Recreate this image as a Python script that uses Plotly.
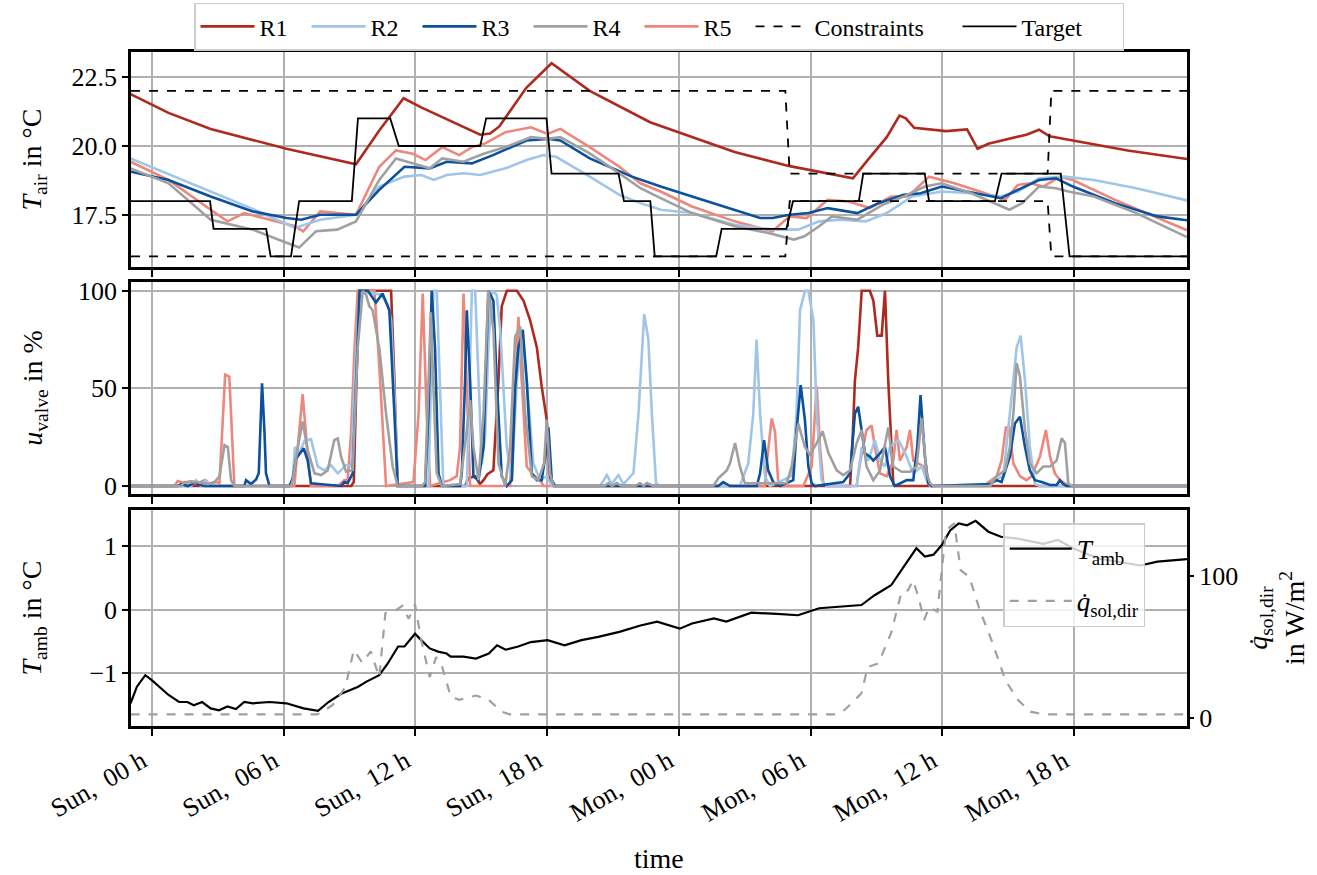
import plotly.graph_objects as go

# ---------------- data (hours relative to Sunday 00 h) ----------------
X_RANGE = [-0.96, 47.15]
TICK_HOURS = [0, 6, 12, 18, 24, 30, 36, 42]
TICK_LABELS = ["Sun, \u00a000 h", "Sun, \u00a006 h", "Sun, \u00a012 h", "Sun, \u00a018 h",
               "Mon, \u00a000 h", "Mon, \u00a006 h", "Mon, \u00a012 h", "Mon, \u00a018 h"]
ROOMS = ["R1", "R2", "R3", "R4", "R5"]
COLORS = {"R1": "#ae2a1f", "R2": "#9fc5e8", "R3": "#0b519e",
          "R4": "#a0a0a0", "R5": "#ee877b"}

# air temperature per room
t_air_h = {
    "R1": [-0.98, 0.75, 2.67, 6.12, 9.29, 10.35, 11.46, 12.26, 14.95, 15.4, 15.82, 17.06, 18.2,
           19.94, 22.69, 26.54, 29.05, 31.93, 32.6, 33.47, 34.05, 34.34, 34.72, 36.17, 37.13,
           37.61, 38.1, 39.83, 40.41, 40.89, 41.95, 44.45, 47.15],
    "R2": [-0.98, 2.67, 4.5, 6.51, 7.66, 9.29, 10.35, 11.5, 12.26, 12.84, 13.42, 14.18, 14.95,
           16.1, 17.06, 17.83, 18.41, 19.94, 21.29, 22.25, 23.17, 24.6, 26.54, 28.27, 29.43,
           30.39, 31.36, 32.51, 33.47, 34.63, 35.98, 37.33, 38.67, 39.44, 40.41, 41.56, 42.91,
           44.84, 47.15],
    "R3": [-0.98, 0.75, 2.67, 4.59, 6.12, 6.79, 7.66, 9.29, 10.35, 11.5, 12.65, 13.42, 14.57,
           15.53, 17.06, 18.02, 18.6, 19.94, 21.86, 23.17, 24.6, 26.54, 27.7, 28.27, 29.04,
           29.91, 30.78, 32.13, 33.09, 34.24, 35.01, 35.98, 37.13, 38.67, 39.44, 40.41, 41.18,
           41.95, 43.87, 45.8, 47.15],
    "R4": [-0.98, 0.75, 2.67, 3.63, 4.59, 5.74, 6.7, 7.47, 8.43, 9.29, 10.35, 11.11, 11.88,
           12.65, 13.22, 14.18, 15.14, 16.1, 17.26, 18.02, 18.6, 19.94, 21.29, 22.25, 23.17,
           24.6, 26.54, 28.08, 29.24, 29.72, 30.39, 30.97, 32.13, 33.28, 34.24, 35.21, 35.98,
           37.33, 39.06, 39.64, 40.41, 41.18, 41.75, 42.91, 44.84, 47.15],
    "R5": [-0.98, 0.75, 2.67, 3.44, 4.2, 5.36, 6.51, 6.89, 7.66, 9.29, 10.35, 11.11, 11.88,
           12.46, 13.22, 13.99, 14.57, 15.14, 16.1, 17.26, 18.02, 18.6, 19.94, 21.29, 22.25,
           23.17, 24.6, 26.54, 28.27, 29.04, 29.82, 30.78, 31.74, 32.7, 33.67, 34.44, 35.4,
           36.55, 38.1, 38.87, 39.44, 40.02, 40.6, 41.37, 41.95, 43.87, 47.15],
}
t_air = {
    "R1": [21.88, 21.2, 20.62, 19.90, 19.34, 20.56, 21.73, 21.40, 20.41, 20.45, 20.71, 22.12, 23.0,
           22.0, 20.86, 19.78, 19.27, 18.83, 19.49, 20.32, 21.1, 21.0, 20.66, 20.54, 20.6,
           19.9, 20.08, 20.41, 20.59, 20.35, 20.2, 19.84, 19.53],
    "R2": [19.55, 18.35, 17.75, 17.03, 17.33, 17.51, 18.53, 18.89, 18.95, 18.77, 18.95, 19.01, 18.95,
           19.19, 19.49, 19.67, 19.61, 18.89, 18.23, 17.93, 17.69, 17.57, 17.15, 16.97, 16.97,
           17.27, 17.33, 17.27, 17.57, 18.17, 18.35, 18.29, 18.17, 18.35, 18.83, 18.89, 18.77,
           18.47, 18.03],
    "R3": [19.07, 18.77, 18.17, 17.63, 17.39, 17.33, 17.51, 17.51, 18.41, 19.25, 19.19, 19.43, 19.37,
           19.67, 20.2, 20.26, 20.2, 19.55, 18.89, 18.53, 18.17, 17.69, 17.39, 17.39, 17.51,
           17.57, 17.75, 17.57, 17.93, 18.23, 18.29, 18.53, 18.35, 18.11, 18.41, 18.77, 18.83,
           18.53, 17.93, 17.45, 17.31],
    "R4": [19.19, 18.65, 17.33, 17.15, 16.97, 16.61, 16.32, 16.91, 16.97, 17.27, 18.77, 19.55, 19.37,
           19.19, 19.55, 19.43, 19.73, 19.96, 20.32, 20.26, 20.32, 19.73, 19.01, 18.47, 18.11,
           17.57, 17.09, 16.85, 16.61, 16.73, 17.09, 17.45, 17.33, 17.87, 18.17, 18.53, 18.65,
           18.29, 17.69, 17.93, 18.53, 18.47, 18.35, 18.17, 17.57, 16.70],
    "R5": [19.43, 18.77, 17.69, 17.27, 17.57, 17.33, 17.09, 16.91, 17.63, 17.51, 19.25, 19.84, 19.72,
           19.49, 19.96, 19.67, 19.96, 20.08, 20.5, 20.68, 20.44, 20.62, 19.96, 19.25, 18.65,
           18.35, 17.81, 17.27, 16.91, 17.45, 17.39, 18.05, 17.99, 17.75, 18.17, 18.17, 18.89,
           18.65, 18.23, 18.05, 18.59, 18.65, 18.53, 18.89, 18.77, 18.05, 16.95],
}

target_h = [-0.96, 2.64, 2.8, 5.2, 5.4, 6.33, 6.7, 9.1, 9.38, 10.85, 11.24, 14.95, 15.22,
            17.97, 18.2, 21.25, 21.5, 22.7, 22.9, 25.7, 25.95, 28.9, 29.2, 32.2, 32.4,
            35.2, 35.4, 38.4, 38.7, 41.4, 41.8, 47.15]
target_t = [18, 18, 17, 17, 16, 16, 18, 18, 21, 21, 20, 20, 21, 21, 19, 19, 18, 18, 16, 16,
            17, 17, 18, 18, 19, 19, 18, 18, 19, 19, 16, 16]

constr_h = [-0.96, 28.85, 29.05, 40.8, 40.97, 47.15]
constr_upper = [22, 22, 19, 19, 22, 22]
constr_lower = [16, 16, 18, 18, 16, 16]

# valve opening per room
valve_h = {
    "R1": [-0.96, 9.07, 9.19, 9.31, 9.45, 10.89, 11.04, 11.19, 14.26, 14.41, 14.72, 14.94, 15.1,
           15.28, 15.55, 15.78, 15.93, 16.16, 16.62, 16.92, 17.22, 17.53, 17.75, 17.98, 18.13,
           18.29, 31.8, 31.92, 32.02, 32.17, 32.33, 32.7, 32.86, 33.04, 33.24, 33.39, 33.54,
           33.77, 33.92, 47.15],
    "R2": [-0.96, 1.78, 2.0, 2.23, 2.46, 2.69, 6.26, 6.41, 6.51, 6.71, 6.94, 7.24, 7.55, 7.85,
           8.15, 8.46, 8.84, 9.07, 9.25, 9.45, 10.43, 10.74, 10.89, 11.07, 11.19, 12.59, 12.7,
           12.82, 12.97, 13.12, 13.27, 14.34, 14.44, 14.57, 14.72, 14.87, 15.02, 15.17, 15.32,
           15.48, 15.7, 15.86, 16.16, 16.39, 16.62, 16.84, 17.07, 17.37, 17.68, 17.98, 18.21,
           20.41, 20.56, 20.72, 20.94, 21.25, 21.47, 21.7, 21.93, 22.16, 22.42, 22.61, 22.77,
           22.96, 23.14, 26.78, 26.94, 27.16, 27.39, 27.54, 27.7, 27.92, 28.15, 29.14, 29.36,
           29.52, 29.75, 29.9, 30.13, 30.28, 30.5, 30.73, 32.1, 32.33, 32.63, 32.93, 33.16,
           33.39, 33.62, 34.0, 34.3, 34.68, 35.06, 35.29, 35.44, 38.17, 38.4, 38.78, 39.08,
           39.39, 39.57, 39.77, 39.99, 40.22, 40.45, 47.15],
    "R3": [-0.96, 1.17, 1.32, 1.62, 1.93, 2.38, 4.2, 4.28, 4.51, 4.74, 4.86, 5.01, 5.12, 5.19,
           5.35, 6.26, 6.41, 6.56, 6.91, 7.09, 7.24, 8.61, 8.76, 8.91, 9.14, 9.29, 9.45, 9.83,
           10.2, 10.5, 10.81, 11.04, 11.19, 12.44, 12.59, 12.74, 12.89, 13.05, 13.2, 14.03,
           14.11, 14.26, 14.34, 14.49, 14.64, 14.87, 15.1, 15.32, 15.55, 15.7, 15.93, 16.16,
           16.39, 16.54, 16.69, 16.89, 17.07, 17.3, 17.53, 17.75, 17.91, 18.06, 18.21, 18.36,
           25.8, 26.02, 26.33, 27.55, 27.7, 27.88, 28.07, 28.3, 28.61, 29.21, 29.36, 29.55,
           29.74, 29.9, 30.05, 30.2, 31.49, 31.8, 32.02, 32.17, 32.33, 32.48, 32.71, 32.86,
           33.16, 33.39, 33.62, 33.84, 34.38, 34.68, 34.86, 35.01, 35.21, 35.36, 35.52, 38.17,
           38.48, 38.7, 39.08, 39.31, 39.54, 39.77, 39.99, 40.22, 40.53, 40.91, 41.21, 41.36,
           41.51, 41.67, 47.15],
    "R4": [-0.96, 1.32, 1.47, 2.08, 2.54, 2.84, 3.07, 3.3, 3.45, 3.6, 3.75, 6.33, 6.41, 6.64,
           6.86, 7.09, 7.4, 7.7, 8.0, 8.3, 8.46, 8.61, 8.84, 9.14, 9.37, 9.6, 9.75, 9.9, 10.05,
           10.36, 10.66, 10.96, 11.19, 12.3, 12.44, 12.56, 12.7, 12.82, 12.97, 13.2, 14.03,
           14.34, 14.49, 14.64, 14.87, 15.1, 15.32, 15.55, 15.78, 16.09, 16.31, 16.54, 16.77,
           17.0, 17.3, 17.6, 17.86, 17.98, 18.13, 18.29, 20.6, 20.79, 20.95, 21.17, 21.4, 22.0,
           22.23, 22.4, 22.54, 22.84, 25.57, 25.8, 26.18, 26.33, 26.56, 26.78, 27.01, 28.91,
           29.14, 29.44, 29.74, 29.97, 30.28, 30.55, 30.81, 31.19, 31.49, 31.8, 32.1, 32.33,
           32.55, 32.86, 33.16, 33.54, 33.77, 34.15, 34.53, 34.83, 35.06, 35.29, 35.44, 35.59,
           38.17, 38.48, 38.86, 39.08, 39.24, 39.39, 39.54, 39.77, 39.99, 40.3, 40.6, 40.91,
           41.21, 41.44, 41.59, 41.74, 41.9, 47.15],
    "R5": [-0.96, 1.02, 1.17, 1.47, 1.78, 2.08, 2.38, 2.61, 2.92, 3.07, 3.33, 3.52, 3.75, 6.48,
           6.68, 6.86, 7.06, 7.24, 8.46, 8.76, 8.91, 9.07, 9.22, 9.37, 10.13, 10.36, 10.66,
           11.3, 11.91, 12.14, 12.33, 12.51, 12.67, 13.27, 13.58, 13.88, 14.03, 14.19, 14.34,
           14.49, 16.31, 16.46, 16.69, 16.84, 17.07, 17.37, 17.68, 17.83, 27.92, 27.99, 28.23,
           28.38, 28.53, 28.68, 29.67, 29.82, 30.05, 30.28, 30.43, 30.58, 30.73, 32.1, 32.25,
           32.55, 32.78, 32.93, 33.16, 33.47, 33.77, 33.92, 34.07, 34.38, 34.53, 34.68, 35.14,
           35.36, 35.52, 37.87, 38.1, 38.48, 38.7, 38.9, 39.05, 39.24, 39.54, 39.84, 40.07,
           40.45, 40.72, 40.91, 41.13, 41.36, 41.59, 41.74, 47.15],
}
valve = {
    "R1": [0, 0, 2, 54, 100, 100, 54, 0, 0, 4, 5, 1, 3, 6, 8, 54, 92, 100, 100, 95, 85, 71, 51,
           34, 3, 0, 0, 25, 54, 71, 100, 100, 95, 77, 77, 100, 54, 1, 0, 0],
    "R2": [0, 0, 3, 0, 3, 0, 0, 4, 20, 17, 23, 24, 10, 8, 10.7, 6.5, 10.7, 10, 60, 100, 98, 93,
           85, 40, 0, 0, 50, 100, 100, 54, 0, 0, 50, 100, 100, 54, 11, 25, 71, 100, 98, 80, 20,
           3, 54, 80, 54, 11.6, 3, 5, 0, 0, 3, 5.6, 1, 5.6, 1, 4, 6.5, 37, 88, 75, 37, 1.4, 0,
           0, 5, 11.6, 37, 75, 37, 5, 0, 5, 37, 90, 100, 100, 85, 37, 3, 0, 0, 20, 13, 23.5,
           13, 10, 20, 23.5, 17, 6.5, 10, 3, 0, 0, 3, 5, 37, 71, 77, 54, 20, 1, 0, 0],
    "R3": [0, 0, 1, 0, 1.5, 0, 0, 3, 1, 3.4, 6.5, 52.6, 28, 6.5, 0, 0, 4, 14, 19.3, 13, 1.4, 0,
           2, 1.5, 6.5, 54, 100, 100, 94, 98.6, 90, 37, 0, 0, 37, 100, 71, 6.5, 0, 0, 6.5, 54,
           90, 54, 5, 3, 20, 100, 95, 54, 5, 0, 3, 50, 71, 80, 54, 6.5, 3, 3, 15, 30, 3, 0, 0,
           2, 0, 0, 6.5, 23.5, 8, 2, 0, 3, 28, 51.7, 34, 10, 1.4, 0, 2, 6.5, 37, 40.6, 29, 16.7,
           15, 13, 16.7, 20, 5, 0, 3, 3, 20, 46.6, 15, 1.4, 0, 1, 3, 2, 15, 32, 35.5, 20, 8, 3,
           2, 0.5, 0.5, 3, 1, 0, 0],
    "R4": [0, 0, 2, 2, 1, 2, 5, 21, 20, 3, 0, 0, 3, 20, 33, 18.4, 6.5, 5.6, 8, 23.5, 24.4, 15,
           7.3, 8.2, 71, 100, 98, 92, 90, 70, 37, 10, 0, 0, 2, 40, 89, 50, 6.5, 0, 1, 28.7, 44,
           20, 3, 37, 100, 80, 11.6, 0, 20, 76.5, 81.6, 37, 5, 3, 11.6, 34, 6.5, 0, 0, 1.5, 0,
           1.5, 0, 0, 1.5, 0, 1.5, 0, 0, 4, 8, 11.6, 22, 10, 1.4, 1.4, 10, 32, 20, 16, 22, 28,
           17, 8, 5.6, 8, 22, 28.7, 10, 3, 8, 30, 10, 7.3, 7.3, 10, 34.6, 6.5, 1.4, 0, 0, 5, 8,
           20, 37, 63, 56, 28.7, 11.6, 6.5, 10, 10, 13, 24.4, 22, 1.4, 0, 0],
    "R5": [0, 0, 2.5, 1.5, 2.5, 1.5, 3, 1, 2, 1.5, 57, 56, 0, 0, 25, 47, 20, 0, 0, 3, 3, 28, 70,
           100, 100, 60, 0, 1, 2, 37, 98.6, 37, 0, 2, 3, 5, 20, 98.6, 54, 0, 0, 37, 86.7, 54, 10,
           5.6, 3, 0, 0, 10, 34.6, 28, 1.4, 0, 0, 4, 10, 51, 20, 1.4, 0, 0, 11.6, 28.7, 31, 20,
           6.5, 5, 13, 28.7, 13, 20, 28.7, 13, 10, 3, 0, 0, 2, 5, 13, 30, 30, 11.6, 5, 3, 5, 15,
           28.7, 15, 6.5, 3, 1.4, 0, 0],
}

# ambient temperature and direct solar radiation
t_amb_h = [-0.98, -0.69, -0.31, 0.0, 0.75, 1.23, 1.61, 1.9, 2.28, 2.67, 3.05, 3.43, 3.82, 4.2,
           4.6, 5.36, 6.12, 6.9, 7.56, 8.04, 8.62, 9.39, 9.77, 10.35, 10.73, 11.21, 11.5,
           11.98, 12.26, 12.65, 13.03, 13.42, 13.6, 14.18, 14.76, 15.34, 15.72, 16.1, 16.68,
           17.26, 18.02, 18.79, 19.56, 20.33, 21.29, 22.25, 23.01, 24.04, 24.6, 25.6, 26.16,
           27.3, 28.47, 29.43, 30.39, 32.32, 32.9, 33.67, 34.24, 34.82, 35.21, 35.6, 35.98,
           36.36, 36.75, 37.13, 37.52, 38.1, 38.67, 39.44, 40.6, 41.27, 41.95, 43.1, 45.03,
           45.8, 47.15]
t_amb = [-1.47, -1.21, -1.03, -1.11, -1.34, -1.45, -1.45, -1.5, -1.45, -1.55, -1.58, -1.52,
         -1.56, -1.45, -1.47, -1.45, -1.47, -1.55, -1.59, -1.45, -1.32, -1.21, -1.13, -1.03,
         -0.85, -0.58, -0.58, -0.38, -0.48, -0.61, -0.66, -0.69, -0.74, -0.74, -0.77, -0.69,
         -0.56, -0.63, -0.58, -0.51, -0.48, -0.56, -0.48, -0.43, -0.35, -0.25, -0.19, -0.30,
         -0.22, -0.14, -0.19, -0.05, -0.07, -0.09, 0.02, 0.07, 0.22, 0.38, 0.67, 0.96, 0.83,
         0.86, 1.01, 1.24, 1.35, 1.32, 1.39, 1.22, 1.14, 1.11, 1.03, 1.09, 0.96, 0.80, 0.69,
         0.75, 0.79]

q_sol_h = [-0.98, 7.5, 7.66, 8.23, 8.81, 9.19, 9.58, 9.96, 10.35, 10.63, 11.11, 11.4, 11.69,
           11.98, 12.26, 12.65, 12.94, 13.22, 13.61, 14.0, 14.76, 15.34, 15.91, 16.3, 31.16,
           31.55, 32.32, 32.6, 33.09, 33.67, 34.15, 34.44, 34.67, 34.92, 35.17, 35.4, 35.78,
           36.17, 36.55, 36.84, 37.23, 37.71, 38.29, 38.87, 39.44, 40.02, 40.6, 47.15]
q_sol = [2.8, 2.8, 3.5, 9.4, 22, 48, 39, 47, 29, 74, 76, 79, 70, 80, 55, 29, 43, 36, 15, 13,
         16, 13, 4.7, 2.8, 2.8, 5.9, 17.6, 36, 38.6, 60, 89, 90, 97, 85, 69, 78, 75, 132, 137,
         104, 99.5, 76, 53, 27, 13, 4.7, 2.8, 2.8]

# ---------------- figure ----------------
FONT = "Liberation Serif"
fig = go.Figure()

legend_w = {"R1": 42, "R2": 42, "R3": 42, "R4": 42, "R5": 42}
draw_order = ["R1", "R5", "R2", "R3", "R4"]
for r in draw_order:
    fig.add_trace(go.Scatter(x=t_air_h[r], y=t_air[r], mode="lines", name=r,
                             line=dict(color=COLORS[r], width=2.6), legendrank=ROOMS.index(r) + 1,
                             legendwidth=legend_w[r],
                             xaxis="x", yaxis="y", legend="legend"))
fig.add_trace(go.Scatter(x=constr_h, y=constr_upper, mode="lines", name="Constraints",
                         line=dict(color="black", width=1.8, dash="dash"), legendrank=6,
                         legendwidth=138, xaxis="x", yaxis="y", legend="legend"))
fig.add_trace(go.Scatter(x=constr_h, y=constr_lower, mode="lines", name="Constraints",
                         showlegend=False, line=dict(color="black", width=1.8, dash="dash"),
                         xaxis="x", yaxis="y"))
fig.add_trace(go.Scatter(x=target_h, y=target_t, mode="lines", name="Target",
                         line=dict(color="black", width=1.8), legendrank=7, legendwidth=96,
                         xaxis="x", yaxis="y", legend="legend"))

for r in draw_order:
    fig.add_trace(go.Scatter(x=valve_h[r], y=valve[r], mode="lines", name=r, showlegend=False,
                             line=dict(color=COLORS[r], width=2.6), xaxis="x2", yaxis="y2"))

fig.add_trace(go.Scatter(x=q_sol_h, y=q_sol, mode="lines",
                         name="<i>q\u0307</i><sub>sol,dir</sub>",
                         line=dict(color="#a0a0a0", width=2.2, dash="dash"),
                         xaxis="x3", yaxis="y4", legend="legend2", legendrank=2,
                         legendgroup="q"))
fig.add_trace(go.Scatter(x=t_amb_h, y=t_amb, mode="lines", name="<i>T</i><sub>amb</sub>",
                         line=dict(color="black", width=2.2),
                         xaxis="x3", yaxis="y3", legend="legend2", legendrank=1,
                         legendgroup="t"))

GRID = "#b0b0b0"
tickfont = dict(family=FONT, size=26, color="black")
xtickfont = dict(family=FONT, size=26, color="black")
titlefont = dict(family=FONT, size=28, color="black")

def xax(anchor, show_labels):
    return dict(range=X_RANGE, tickmode="array", tickvals=TICK_HOURS, ticktext=TICK_LABELS,
                showticklabels=show_labels, tickangle=-30, tickfont=xtickfont,
                ticklabelshift=-10,
                ticks="outside", ticklen=7, tickwidth=2, tickcolor="black",
                showgrid=True, gridcolor=GRID, gridwidth=2, zeroline=False,
                showline=True, linecolor="black", linewidth=2.5, mirror=True,
                anchor=anchor, automargin=False)

def yax(domain, rng, tickvals, title, standoff, ticktext=None):
    return dict(domain=domain, range=rng, tickmode="array", tickvals=tickvals,
                ticktext=ticktext if ticktext else [str(v) for v in tickvals],
                tickfont=tickfont, ticks="outside", ticklen=6, tickwidth=2,
                tickcolor="black", showgrid=True, gridcolor=GRID, gridwidth=2,
                zeroline=False, showline=True, linecolor="black", linewidth=2.5,
                mirror=True, automargin=False,
                title=dict(text=title, font=titlefont, standoff=standoff))

fig.update_layout(
    width=1317, height=875,
    margin=dict(l=131, r=130, t=52, b=149, autoexpand=False),
    paper_bgcolor="white", plot_bgcolor="white",
    font=dict(family=FONT, size=24, color="black"),
    xaxis=xax("y", False),
    xaxis2=xax("y2", False),
    xaxis3=xax("y3", True),
    yaxis=yax([0.681, 1.0], [15.616, 23.406], [17.5, 20.0, 22.5],
              "<i>T</i><sub>air</sub> in °C", 22, ["17.5", "20.0", "22.5"]),
    yaxis2=yax([0.3442, 0.6588], [-4.1, 104.5], [0, 50, 100],
               "<i>u</i><sub>valve</sub> in %", 28),
    yaxis3=yax([0.0, 0.3205], [-1.826, 1.56], [-1, 0, 1],
               "<i>T</i><sub>amb</sub> in °C", 40, ["\u22121", "0", "1"]),
    yaxis4=dict(overlaying="y3", side="right", anchor="x3", range=[-5.4, 146.4],
                tickmode="array", tickvals=[0, 100], ticktext=["0", "100"],
                tickfont=tickfont, ticks="outside", ticklen=6, tickwidth=2,
                tickcolor="black", showgrid=False, zeroline=False, showline=False,
                automargin=False,
                title=dict(text="<i>q\u0307</i><sub>sol,dir</sub><br>in W/m<sup>2</sup>",
                           font=titlefont, standoff=10)),
    legend=dict(orientation="h", x=0.5, xanchor="center", y=1.073, yanchor="top",
                bgcolor="white", bordercolor="#cccccc", borderwidth=1.5,
                font=dict(family=FONT, size=24, color="black"), itemwidth=54,
                traceorder="normal"),
    legend2=dict(x=0.826, xanchor="left", y=0.301, yanchor="top",
                 bgcolor="rgba(255,255,255,0.8)", bordercolor="#cccccc", borderwidth=1.5,
                 font=dict(family=FONT, size=27, color="black"), tracegroupgap=14,
                 itemwidth=62, traceorder="grouped"),
    annotations=[dict(text="time", xref="paper", yref="paper", x=0.5, y=-0.196,
                      xanchor="center", yanchor="middle", showarrow=False,
                      font=titlefont)],
)

fig.write_html("out.html")
